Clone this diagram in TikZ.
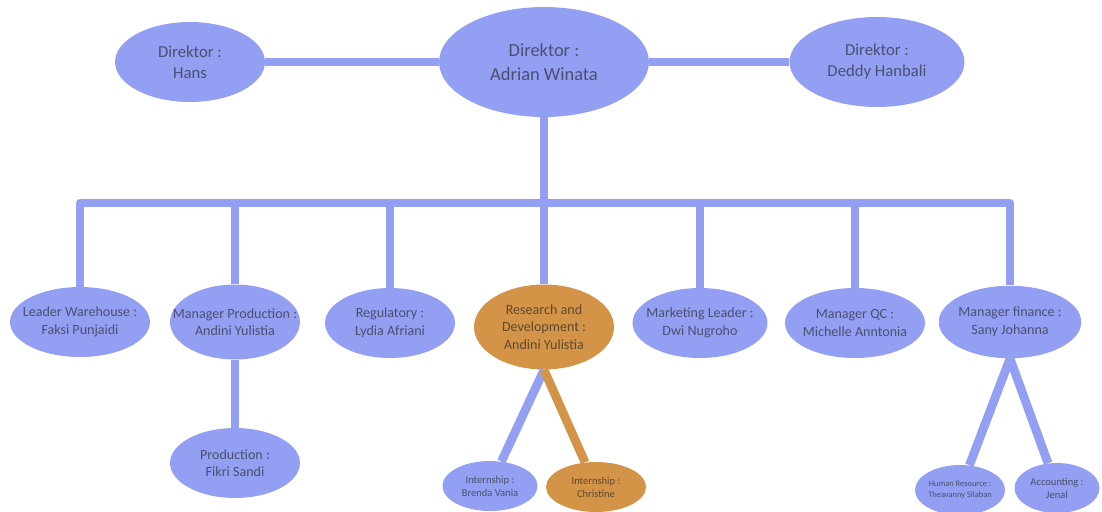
\documentclass[tikz,border=0pt]{standalone}
\usepackage{fontspec}
\setmainfont{Carlito}
\usetikzlibrary{shapes.geometric, calc}

\definecolor{peri}{HTML}{939FF2}
\definecolor{amber}{HTML}{D39448}
\definecolor{ink}{HTML}{4A5070}
\definecolor{brownink}{HTML}{5E4A2E}

\begin{document}
\begin{tikzpicture}[x=0.02cm, y=-0.02cm,
  pill/.style={ellipse, fill=peri, text=ink, align=center, inner ysep=0pt, inner xsep=-40pt},
  pillr/.style={pill, fill=amber, text=brownink},
  link/.style={draw=peri, line width=5pt, line join=round},
  linkr/.style={link, draw=amber}]
\useasboundingbox (0,0) rectangle (1102,511);

\node[pill, minimum width=3cm, minimum height=1.6cm, font=\fontsize{9.5}{12}\selectfont] (hans) at (190,62) {Direktor :\\Hans};
\node[pill, minimum width=4.2cm, minimum height=2.2cm, font=\fontsize{10.5}{13.5}\selectfont] (adrian) at (544,62) {Direktor :\\Adrian Winata};
\node[pill, minimum width=3.5cm, minimum height=1.8cm, font=\fontsize{9.5}{12}\selectfont] (deddy) at (877,62) {Direktor :\\Deddy Hanbali};

\coordinate (bus) at (544,203);

\begin{scope}[font=\fontsize{8}{10}\selectfont, minimum height=1.4cm]
\node[pill, minimum width=2.8cm] (ware) at (80,322) {Leader Warehouse :\\Faksi Punjaidi};
\node[pill, minimum width=2.6cm, minimum height=1.5cm] (prodm) at (235,322) {Manager Production :\\Andini Yulistia};
\node[pill, minimum width=2.6cm] (reg) at (390,323) {Regulatory :\\Lydia Afriani};
\node[pillr, minimum width=2.8cm, minimum height=1.7cm] (rnd) at (544,327) {Research and\\Development :\\Andini Yulistia};
\node[pill, minimum width=2.7cm] (mkt) at (700,323) {Marketing Leader :\\Dwi Nugroho};
\node[pill, minimum width=2.8cm] (qc) at (855,323) {Manager QC :\\Michelle Anntonia};
\node[pill, minimum width=2.85cm, minimum height=1.45cm] (fin) at (1010,322) {Manager finance :\\Sany Johanna};
\node[pill, minimum width=2.6cm] (prod) at (235,463) {Production :\\Fikri Sandi};
\end{scope}

\begin{scope}[font=\fontsize{6}{7.5}\selectfont, minimum height=1cm]
\node[pill, minimum width=1.9cm] (brenda) at (490,486) {Internship :\\Brenda Vania};
\node[pillr, minimum width=2cm] (chris) at (596,487) {Internship :\\Christine};
\node[pill, minimum width=1.8cm, font=\fontsize{4.8}{6.5}\selectfont] (hr) at (960,490) {Human Resource :\\Theavanny Silaban};
\node[pill, minimum width=1.7cm] (acc) at (1057,488) {Accounting :\\Jenal};
\end{scope}

\draw[link] (hans) -- (adrian);
\draw[link] (adrian) -- (deddy);
\draw[link] (adrian) -- (bus);
\draw[link] (ware) -- (ware |- bus) -| (fin);
\foreach \n in {prodm, reg, rnd, mkt, qc}
  \draw[link] (\n |- bus) -- (\n);
\draw[link] (prodm) -- (prod);
\draw[link] (rnd.south) -- (brenda);
\draw[linkr] (rnd.south) -- (chris);
\draw[link] (fin.south) -- (hr);
\draw[link] (fin.south) -- (acc);
\end{tikzpicture}
\end{document}
